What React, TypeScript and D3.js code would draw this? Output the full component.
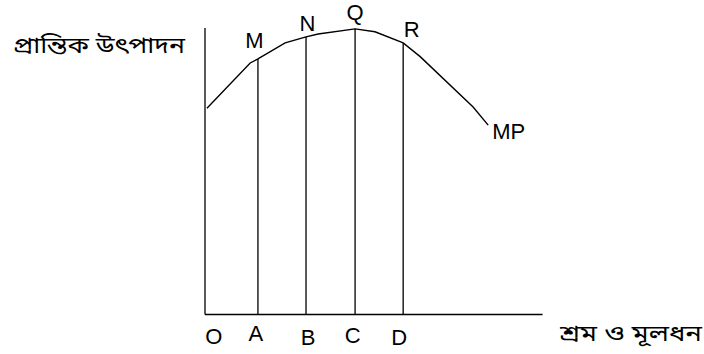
import React from 'react';
import * as d3 from 'd3';

// marginal product curve, x in units of input, y in units of output
const curveX = [0.04, 0.93, 1.09, 1.65, 2.08, 2.33, 3.09, 3.5, 4.08, 4.43, 5.52, 5.83];
const curveY = [7.2, 8.78, 8.92, 9.48, 9.69, 9.79, 9.97, 9.87, 9.48, 9.0, 7.24, 6.61];

// drop lines from the curve to the x axis
const dropX = [1.09, 2.08, 3.09, 4.08];
const dropY = [8.92, 9.69, 9.97, 9.48];
const pointLabels = ['M', 'N', 'Q', 'R'];
const axisLabels = ['A', 'B', 'C', 'D'];

const originLabel = 'O';
const curveLabel = 'MP';
const yTitle = 'প্রান্তিক উৎপাদন';
const xTitle = 'শ্রম ও মূলধন';

const W = 704;
const H = 354;

const App = () => {
  const x = d3.scaleLinear().domain([0, 7]).range([205, 545]);
  const y = d3.scaleLinear().domain([0, 10]).range([314.5, 28]);

  const pts: [number, number][] = curveX.map((v, i) => [v, curveY[i]]);
  const path = d3.line<[number, number]>()
    .x(d => x(d[0]))
    .y(d => y(d[1]))(pts) || '';

  // small nudges so the letters sit like in the drawing
  const labelNudge = [[-3.5, -11], [1.5, -5.5], [0, -8.5], [8.5, -5.5]];
  const axisNudge = [[-2, 26], [2, 30.5], [-2.5, 28], [-4, 30.5]];

  const font = 'Arial, "Liberation Sans", sans-serif';
  const bnFont = 'Vrinda, "Noto Sans Bengali", "Lohit Bengali", sans-serif';
  const last = pts[pts.length - 1];

  return (
    <svg width={W} height={H} style={{position: 'absolute', left: 0, top: 0, background: '#fff'}}>
      <g stroke="#000" strokeWidth={1.3} fill="none">
        <line x1={x(0)} x2={x(0)} y1={y(10)} y2={y(0)} />
        <line x1={x(0)} x2={x(6.95)} y1={y(0)} y2={y(0)} />
        {dropX.map((v, i) => (
          <line key={i} x1={x(v)} x2={x(v)} y1={y(dropY[i])} y2={y(0)} />
        ))}
        <path d={path} strokeWidth={1.4} />
      </g>
      <g fontFamily={font} fontSize={22} fill="#000" textAnchor="middle">
        {pointLabels.map((t, i) => (
          <text key={t} x={x(dropX[i]) + labelNudge[i][0]} y={y(dropY[i]) + labelNudge[i][1]}>{t}</text>
        ))}
        {axisLabels.map((t, i) => (
          <text key={t} x={x(dropX[i]) + axisNudge[i][0]} y={y(0) + axisNudge[i][1]}>{t}</text>
        ))}
        <text x={x(0) + 8.7} y={y(0) + 29.5}>{originLabel}</text>
        <text x={x(last[0]) + 4} y={y(last[1]) + 14} textAnchor="start">{curveLabel}</text>
      </g>
      <text x={13} y={53} fontFamily={bnFont} fontSize={23} textLength={172} lengthAdjust="spacingAndGlyphs">{yTitle}</text>
      <text x={560} y={341} fontFamily={bnFont} fontSize={23} textLength={142} lengthAdjust="spacingAndGlyphs">{xTitle}</text>
    </svg>
  );
};

export default App;
